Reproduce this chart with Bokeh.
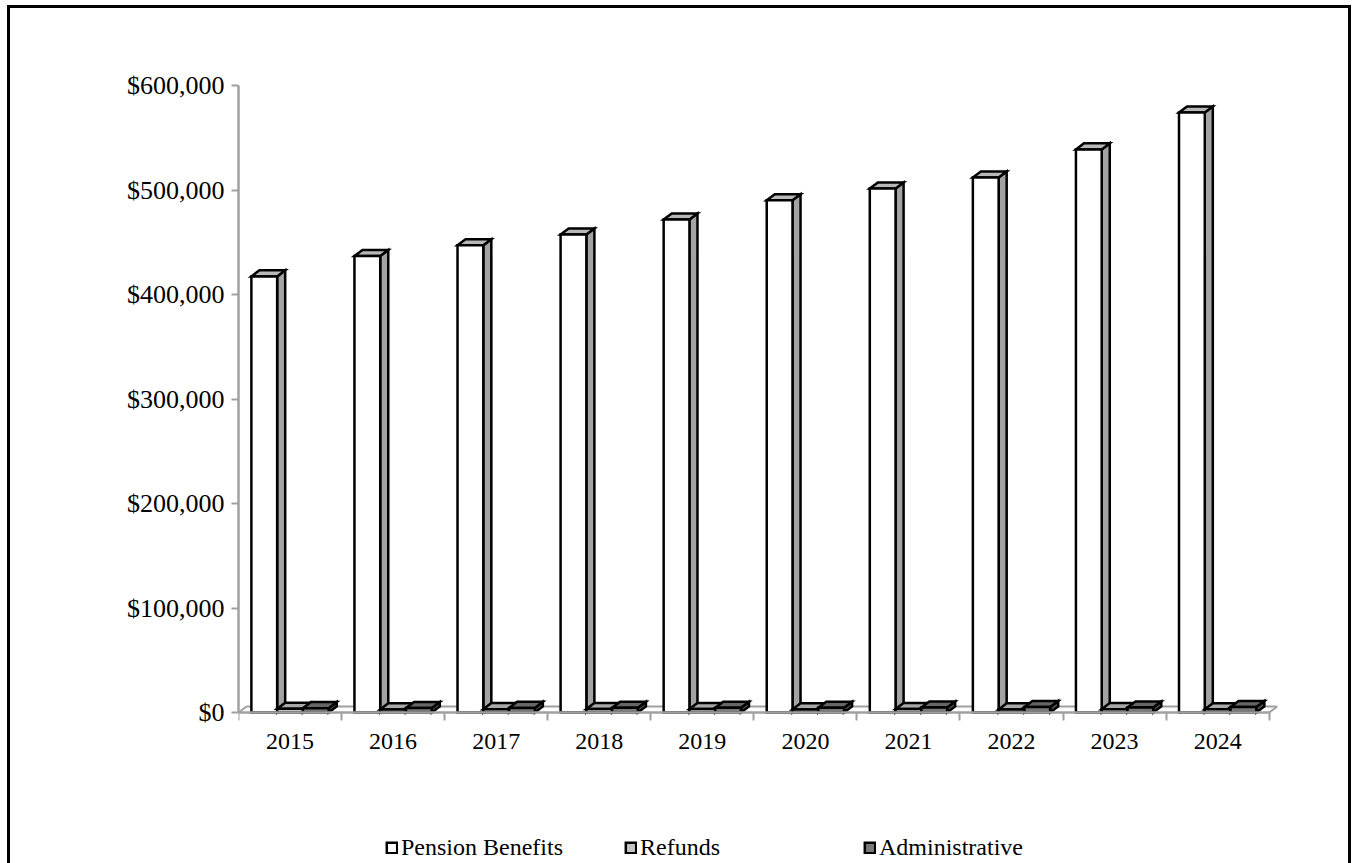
from bokeh.plotting import figure
from bokeh.models import (Range1d, FixedTicker, NumeralTickFormatter, LinearAxis,
                          Legend, LegendItem, InlineStyleSheet)
from bokeh.embed import file_html
from bokeh.resources import INLINE

# ---------------- data ----------------
years = ["2015", "2016", "2017", "2018", "2019", "2020", "2021", "2022", "2023", "2024"]
pension = [417400, 436900, 447100, 457400, 471800, 490300, 501500, 512000, 538900, 574300]
refunds = [3500, 3000, 3200, 3300, 3400, 3000, 3300, 3000, 3200, 3100]
admin = [4200, 4300, 4400, 4500, 4600, 4500, 4700, 5200, 4800, 5300]
series_names = ["Pension Benefits", "Refunds", "Administrative"]
y_ticks = [0, 100000, 200000, 300000, 400000, 500000, 600000]

# ---------------- style / layout ----------------
FONT = "Liberation Serif"
AXIS_GREY = "#A0A0A0"
DEPTH_X = 0.078      # 3-D depth offset in category units
DEPTH_Y = 5800       # 3-D depth offset in dollars
BAR_W = 0.25
GROUP_START = 0.125
Y_END = 602000
Y_START = -144500    # room under the floor for labels and legend
faces = [  # front, top, side
    ("#FFFFFF", "#B8B8B8", "#A3A3A3"),
    ("#C4C4C4", "#A8A8A8", "#8E8E8E"),
    ("#7A7A7A", "#666666", "#4F4F4F"),
]

n = len(years)
p = figure(width=1353, height=863, x_range=Range1d(0, n + 0.1), y_range=Range1d(Y_START, Y_END),
           output_backend="svg", toolbar_location=None, x_axis_type=None, y_axis_type=None,
           min_border_left=238, min_border_right=74, min_border_top=83, min_border_bottom=0)
p.outline_line_color = None
p.background_fill_color = "white"
p.border_fill_color = "white"
p.stylesheets = [InlineStyleSheet(css=(
    ":host { position: relative; overflow: hidden; }"
    ":host::after { content: ''; position: absolute; left: 7px; top: 5px; right: 2px; bottom: -20px;"
    " border: 3px solid black; pointer-events: none; }"))]

# floor (3-D base)
p.segment(x0=[DEPTH_X, 0, n], y0=[DEPTH_Y, 0, 0], x1=[n + DEPTH_X, DEPTH_X, n + DEPTH_X],
          y1=[DEPTH_Y, DEPTH_Y, DEPTH_Y], line_color=AXIS_GREY, line_width=2)

legend_renderers = []
for k, vals in enumerate([pension, refunds, admin]):
    front_c, top_c, side_c = faces[k]
    lefts = [i + GROUP_START + k * BAR_W for i in range(n)]
    rights = [l + BAR_W for l in lefts]
    side_xs = [[r, r + DEPTH_X, r + DEPTH_X, r] for r in rights]
    side_ys = [[0, DEPTH_Y, v + DEPTH_Y, v] for v in vals]
    top_xs = [[l, l + DEPTH_X, r + DEPTH_X, r] for l, r in zip(lefts, rights)]
    top_ys = [[v, v + DEPTH_Y, v + DEPTH_Y, v] for v in vals]
    p.patches(side_xs, side_ys, fill_color=side_c, line_color="black", line_width=2.5,
              line_join="miter")
    p.patches(top_xs, top_ys, fill_color=top_c, line_color="black", line_width=2.5,
              line_join="miter")
    r = p.quad(left=lefts, right=rights, bottom=0, top=vals, fill_color=front_c,
               line_color="black", line_width=2.5, line_join="miter")
    legend_renderers.append(r)

# y axis
yaxis = LinearAxis(ticker=FixedTicker(ticks=y_ticks), formatter=NumeralTickFormatter(format="$0,0"),
                   bounds=(0, 600000))
yaxis.axis_line_color = AXIS_GREY
yaxis.axis_line_width = 2.5
yaxis.major_tick_line_color = AXIS_GREY
yaxis.major_tick_line_width = 2
yaxis.major_tick_out = 7
yaxis.major_tick_in = 0
yaxis.minor_tick_out = 0
yaxis.minor_tick_in = 0
yaxis.major_label_text_font = FONT
yaxis.major_label_text_font_size = "26px"
yaxis.major_label_text_color = "black"
yaxis.major_label_standoff = 7
p.add_layout(yaxis, "left")

# x axis at y = 0: labels at category centres, tick marks at boundaries
centers = [i + 0.5 for i in range(n)]
xaxis = LinearAxis(ticker=FixedTicker(ticks=centers, minor_ticks=list(range(n + 1))),
                   bounds=(0, n), fixed_location=0)
xaxis.major_label_overrides = {c: y for c, y in zip(centers, years)}
xaxis.axis_line_color = AXIS_GREY
xaxis.axis_line_width = 2.5
xaxis.major_tick_out = 0
xaxis.major_tick_in = 0
xaxis.minor_tick_out = 8
xaxis.minor_tick_in = 0
xaxis.minor_tick_line_color = AXIS_GREY
xaxis.minor_tick_line_width = 2
xaxis.major_label_text_font = FONT
xaxis.major_label_text_font_size = "24px"
xaxis.major_label_text_color = "black"
xaxis.major_label_standoff = 13
p.add_layout(xaxis, "below")

legend = Legend(items=[LegendItem(label=nm, renderers=[r]) for nm, r in zip(series_names, legend_renderers)],
                orientation="horizontal", location=(147, 2))
legend.label_text_font = FONT
legend.label_text_font_size = "24px"
legend.label_text_color = "black"
legend.glyph_width = 13
legend.glyph_height = 13
legend.label_standoff = 3
legend.label_width = 190
legend.spacing = 33
legend.padding = 0
legend.margin = 0
legend.border_line_color = None
legend.background_fill_alpha = 0
p.add_layout(legend, "center")

open("out.html", "w").write(file_html(p, INLINE))
